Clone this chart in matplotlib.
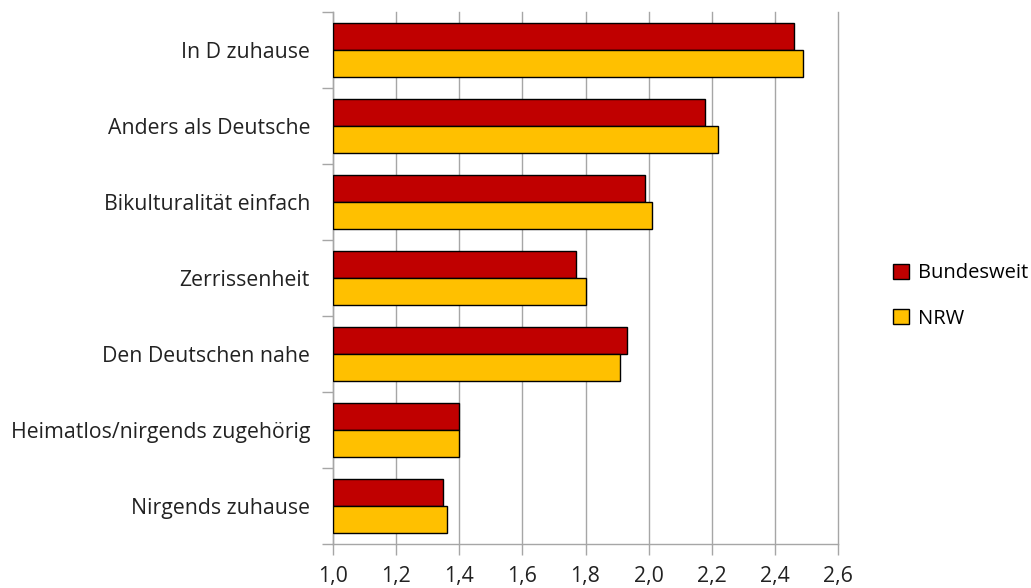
import matplotlib
matplotlib.use("Agg")
import matplotlib.pyplot as plt
from matplotlib.patches import Patch
import numpy as np

categories = ["In D zuhause", "Anders als Deutsche", "Bikulturalität einfach",
              "Zerrissenheit", "Den Deutschen nahe", "Heimatlos/nirgends zugehörig",
              "Nirgends zuhause"]
bundesweit = [2.46, 2.18, 1.99, 1.77, 1.93, 1.40, 1.35]
nrw = [2.49, 2.22, 2.01, 1.80, 1.91, 1.40, 1.36]
xticks = [1.0, 1.2, 1.4, 1.6, 1.8, 2.0, 2.2, 2.4, 2.6]
xticklabels = ["1,0", "1,2", "1,4", "1,6", "1,8", "2,0", "2,2", "2,4", "2,6"]

plt.rcParams['font.family'] = ['Open Sans', 'DejaVu Sans']
fs = 15.3

fig = plt.figure(figsize=(10.31, 5.88), dpi=100)
ax = fig.add_axes([333/1031, 1-544/588, (838-333)/1031, (544-12)/588])

n = len(categories)
y = np.arange(n)
h = 0.36
base = 1.0
red = "#C00000"
yellow = "#FFC000"
ax.barh(y - h/2, np.array(bundesweit) - base, left=base, height=h, color=red,
        edgecolor="black", linewidth=1.0, zorder=3)
ax.barh(y + h/2, np.array(nrw) - base, left=base, height=h, color=yellow,
        edgecolor="black", linewidth=1.0, zorder=3)

ax.set_xlim(1.0, 2.6)
ax.set_ylim(n - 0.5, -0.5)
ax.set_xticks(xticks)
ax.set_xticklabels(xticklabels, fontsize=fs, color="#222222")
ax.xaxis.grid(True, color="#A6A6A6", linewidth=1.0, zorder=0)
for gl in ax.get_xgridlines():
    gl.set_clip_on(False)

ax.set_yticks(np.arange(n + 1) - 0.5, minor=False)
ax.set_yticklabels([""] * (n + 1))
ax.set_yticks(y, minor=True)
ax.set_yticklabels(categories, minor=True, fontsize=fs, color="#222222")
ax.tick_params(axis='y', which='minor', length=0, pad=16.5)
ax.tick_params(axis='y', which='major', length=8, color="#A6A6A6", width=1.0)
ax.tick_params(axis='x', length=8, color="#A6A6A6", width=1.0, pad=8)

for s in ["top", "right"]:
    ax.spines[s].set_visible(False)
for s in ["left", "bottom"]:
    ax.spines[s].set_color("#A6A6A6")
    ax.spines[s].set_linewidth(1.0)

handles = [Patch(facecolor=red, edgecolor="black", label="Bundesweit"),
           Patch(facecolor=yellow, edgecolor="black", label="NRW")]
fig.legend(handles=handles, loc="center left", bbox_to_anchor=(887/1031, 1-296/588),
           frameon=False, fontsize=14.5, handlelength=0.8, handleheight=0.8,
           handletextpad=0.45, labelspacing=1.25, borderaxespad=0, borderpad=0.3)

fig.savefig("out.png", dpi=100)
